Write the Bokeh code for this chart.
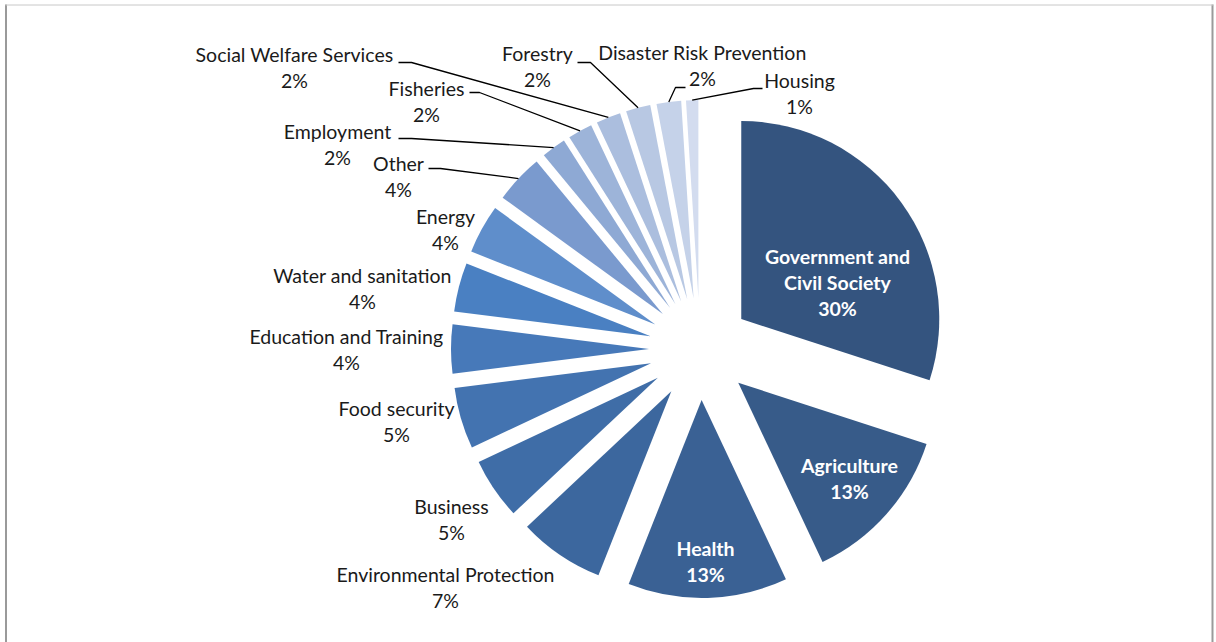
import math
from bokeh.plotting import figure
from bokeh.models import Range1d, ColumnDataSource
from bokeh.embed import file_html
from bokeh.resources import INLINE
from bokeh.core.properties import value

# ---------------- data ----------------
categories = [
    "Government and Civil Society", "Agriculture", "Health",
    "Environmental Protection", "Business", "Food security",
    "Education and Training", "Water and sanitation", "Energy", "Other",
    "Employment", "Fisheries", "Social Welfare Services", "Forestry",
    "Disaster Risk Prevention", "Housing",
]
shares = [30, 13, 13, 7, 5, 5, 4, 4, 4, 4, 2, 2, 2, 2, 2, 1]
colors = [
    "#34547f", "#375b89", "#3a6194", "#3c679e", "#3f6da7", "#4373b0",
    "#4779b9", "#4a80c2", "#5f8ecb", "#7a9ace", "#8ea9d4", "#9db4d9",
    "#abbede", "#b8c8e3", "#c5d2e9", "#d3dcef",
]
inside = {"Government and Civil Society", "Agriculture", "Health"}

# ---------------- layout (screen px, y down) ----------------
W, H = 1216, 642
CX, CY = 699.5, 348.5
R = 198
EXPLODE = 51
LINE_GAP = 26
TEXT_DY = -1

# label centre of the first line for each category
label_pos = {
    "Government and Civil Society": (837, 257),
    "Agriculture": (849, 466),
    "Health": (705, 549),
    "Environmental Protection": (445, 575),
    "Business": (451, 507),
    "Food security": (396, 409),
    "Education and Training": (346, 337),
    "Water and sanitation": (362, 276),
    "Energy": (445, 217),
    "Other": (398, 164),
    "Employment": (337, 132),
    "Fisheries": (426, 89),
    "Social Welfare Services": (294, 55),
    "Forestry": (537, 54),
    "Disaster Risk Prevention": (702, 53),
    "Housing": (799, 81),
}
# leader: (start x, y, horizontal end x)
leaders = {
    "Social Welfare Services": (398, 62, 411),
    "Fisheries": (469, 92, 479),
    "Employment": (398, 138, 411),
    "Other": (428, 168, 440),
    "Forestry": (577, 62, 590),
    "Disaster Risk Prevention": (685, 87, 675),
    "Housing": (762, 88, 753),
}
split_names = {"Government and Civil Society": ["Government and", "Civil Society"]}

def sy(y):
    return H - y

total = float(sum(shares))
wx, wy, ws, we, wc = [], [], [], [], []
mids = {}
cum = 0.0
for cat, s, c in zip(categories, shares, colors):
    a0 = math.radians(90 - 360 * cum / total)
    a1 = math.radians(90 - 360 * (cum + s) / total)
    mid = (a0 + a1) / 2
    mids[cat] = mid
    wx.append(CX + EXPLODE * math.cos(mid))
    wy.append(sy(CY) + EXPLODE * math.sin(mid))
    ws.append(a1)
    we.append(a0)
    wc.append(c)
    cum += s

p = figure(width=W, height=H, x_range=Range1d(0, W), y_range=Range1d(0, H),
           output_backend="svg", toolbar_location=None, min_border=0,
           x_axis_type=None, y_axis_type=None)
p.grid.visible = False
p.outline_line_color = None
p.background_fill_color = "white"
p.border_fill_color = "white"

# frame
p.segment(x0=[5.5, 1212], y0=[sy(4), sy(4)], x1=[5.5, 1212], y1=[0, 0],
          line_color="#9a9a9a", line_width=2)
p.segment(x0=[5], y0=[sy(4.5)], x1=[1213], y1=[sy(4.5)],
          line_color="#c8c8c8", line_width=1)

src = ColumnDataSource(dict(x=wx, y=wy, s=ws, e=we, c=wc))
p.wedge(x="x", y="y", radius=R, start_angle="s", end_angle="e",
        direction="anticlock", fill_color="c", line_color=None, source=src)

# leader lines
lxs, lys = [], []
for cat, (x0, y0, x1) in leaders.items():
    m = mids[cat]
    ex = CX + (EXPLODE + R) * math.cos(m)
    ey = sy(CY) + (EXPLODE + R) * math.sin(m)
    lxs.append([x0, x1, ex])
    lys.append([sy(y0), sy(y0), ey])
p.multi_line(xs=lxs, ys=lys, line_color="#000000", line_width=1.3)

# labels
ox, oy, ot = [], [], []
ix, iy, it = [], [], []
for cat, s in zip(categories, shares):
    x, y = label_pos[cat]
    lines = split_names.get(cat, [cat]) + ["%d%%" % s]
    for k, t in enumerate(lines):
        yy = sy(y + TEXT_DY + k * LINE_GAP)
        if cat in inside:
            ix.append(x); iy.append(yy); it.append(t)
        else:
            ox.append(x); oy.append(yy); ot.append(t)

p.text(x=ox, y=oy, text=ot, text_align="center", text_baseline="middle",
       text_font=value("Lato"), text_font_size="19.5px", text_color="#1a1a1a")
p.text(x=ix, y=iy, text=it, text_align="center", text_baseline="middle",
       text_font=value("Lato"), text_font_size="19.5px", text_font_style="bold",
       text_color="#ffffff")

open("out.html", "w").write(file_html(p, INLINE))
